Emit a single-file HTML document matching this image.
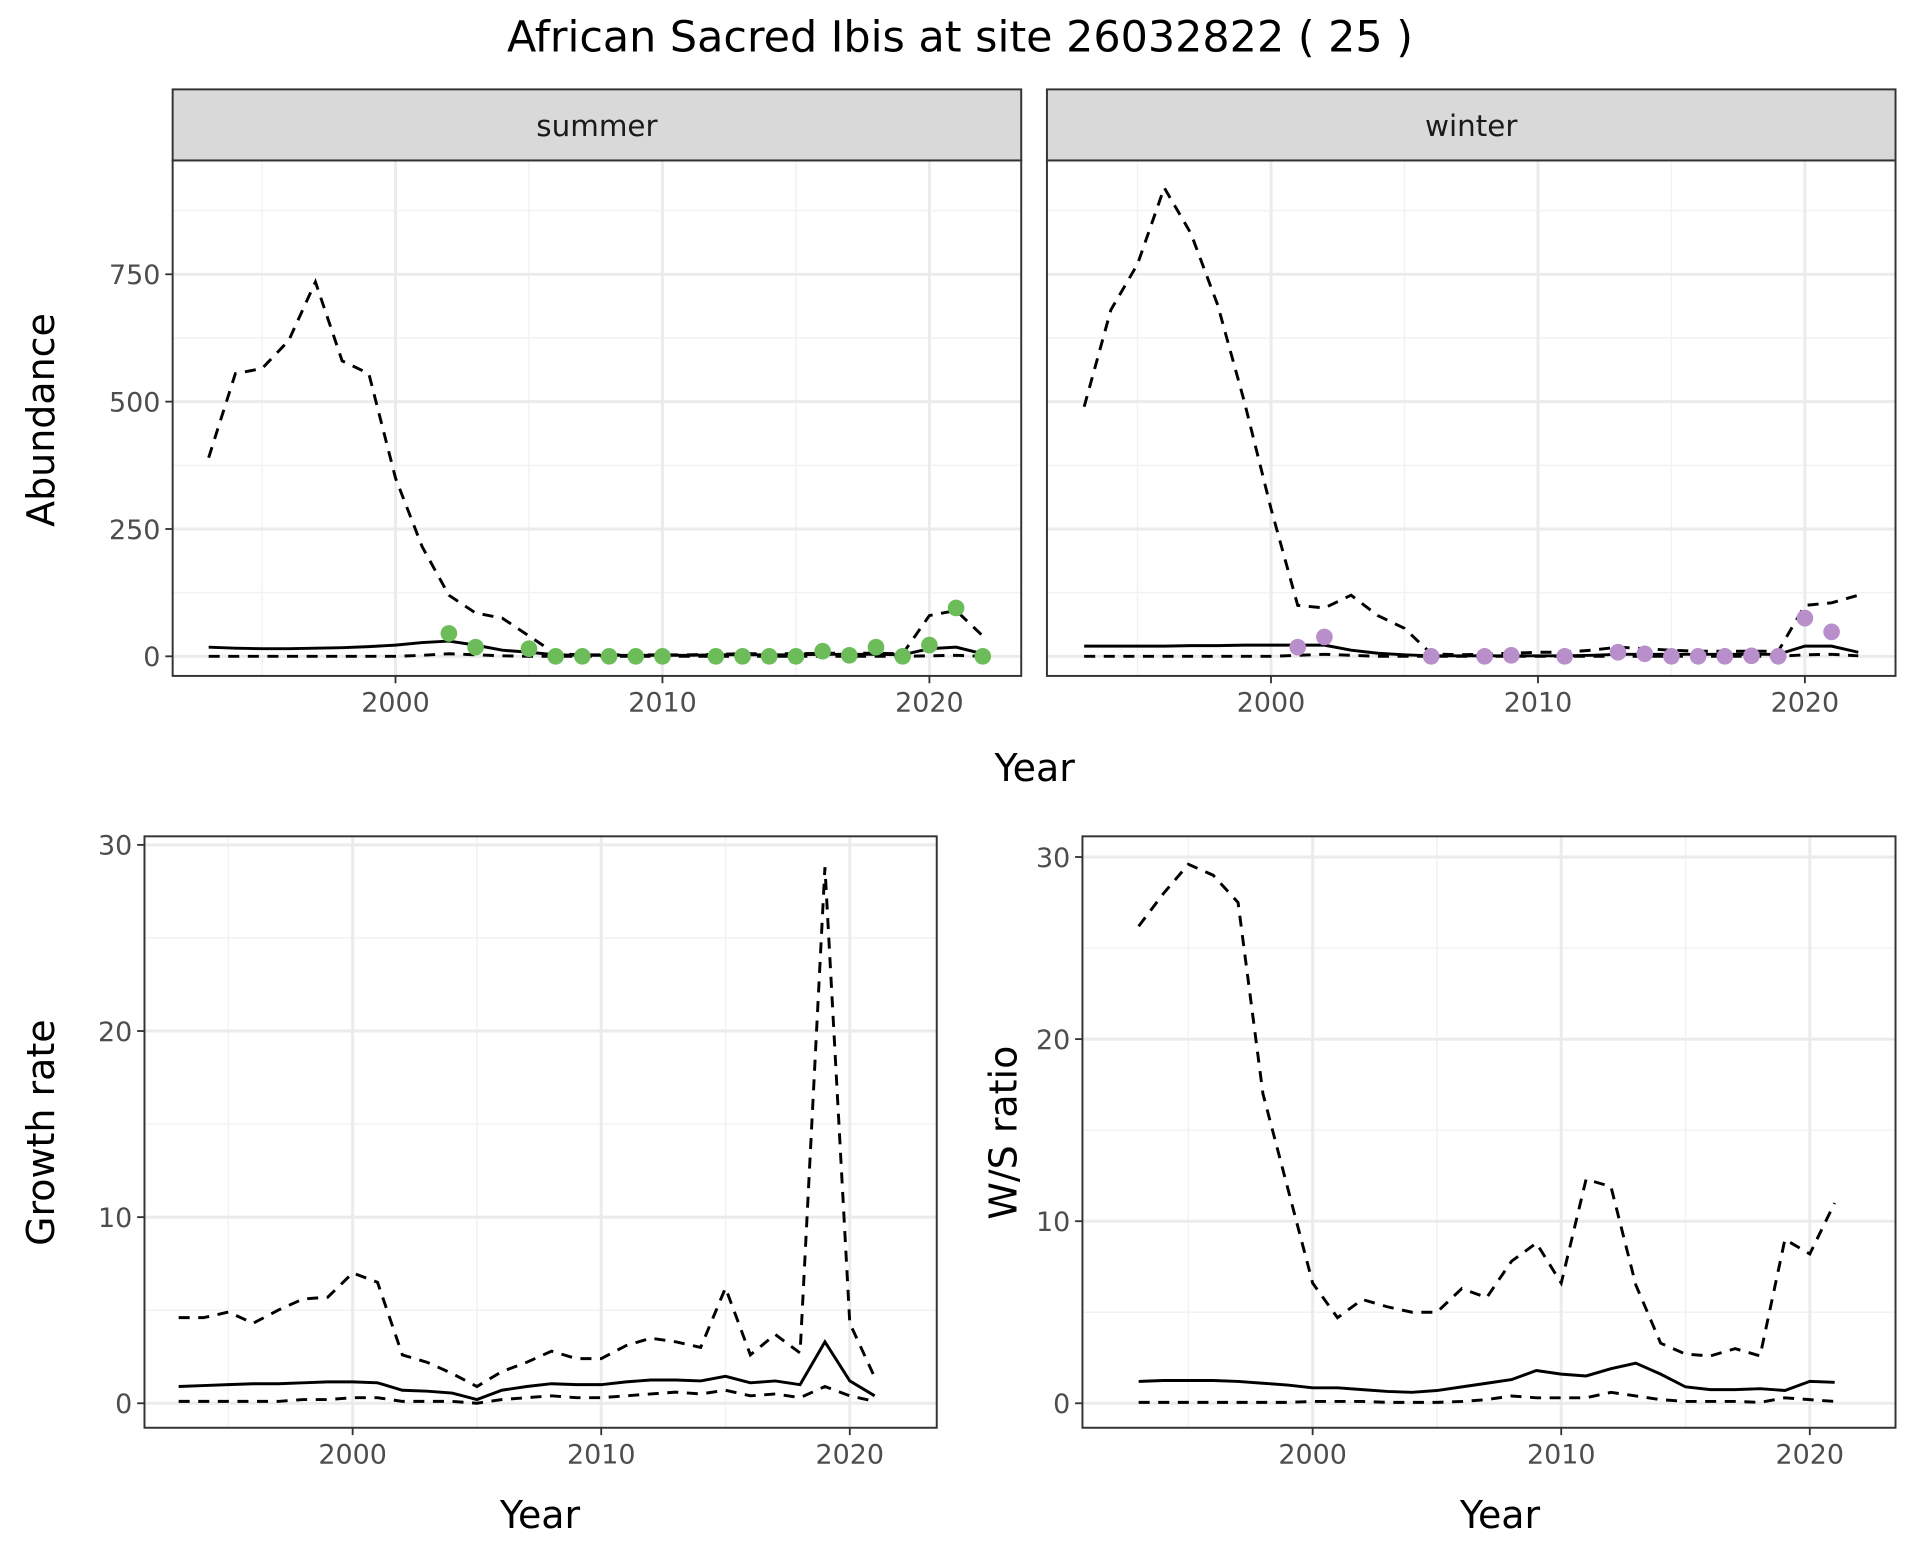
<!DOCTYPE html>
<html><head><meta charset="utf-8"><style>
html,body{margin:0;padding:0;background:#fff;}
svg{display:block;font-family:"DejaVu Sans","Liberation Sans",sans-serif;}
</style></head><body>
<svg id="chart" width="1920" height="1560" viewBox="0 0 1568 1274" xmlns="http://www.w3.org/2000/svg">
<rect width="1568" height="1274" fill="#fff"/>
<text x="784" y="42" font-size="35" text-anchor="middle" fill="#000">African Sacred Ibis at site 26032822 ( 25 )</text>
<g id="g"></g>
</svg>
<script>
const yearsAbund = [1993,1994,1995,1996,1997,1998,1999,2000,2001,2002,2003,2004,2005,2006,2007,2008,2009,2010,2011,2012,2013,2014,2015,2016,2017,2018,2019,2020,2021,2022];
const summerUpper = [390,555,565,620,735,580,555,350,215,120,85,75,40,5,3,3,3,3,3,4,5,5,5,6,6,6,5,80,90,40];
const summerMean = [18,16,15,15,16,17,19,22,27,30,22,12,8,3,2,2,2,2,2,3,3,3,3,4,4,4,3,15,18,5];
const summerLower = [0,0,0,0,0,0,0,0,2,5,3,1,0,0,0,0,0,0,0,0,0,0,0,0,0,0,0,1,2,0];
const summerPtYears = [2002,2003,2005,2006,2007,2008,2009,2010,2012,2013,2014,2015,2016,2017,2018,2019,2020,2021,2022];
const summerPts = [45,18,15,0,0,0,0,0,0,0,0,0,10,2,18,0,22,95,0];
const winterUpper = [490,680,770,920,830,690,500,290,100,95,120,80,55,5,3,4,6,8,8,12,18,15,12,10,10,10,10,100,105,120];
const winterMean = [20,20,20,20,21,21,22,22,22,22,12,6,3,1,1,1,1,1,1,2,4,4,4,4,4,4,4,20,20,8];
const winterLower = [0,0,0,0,0,0,0,0,2,4,2,0,0,0,0,0,0,0,0,0,0,0,0,0,0,0,0,3,4,1];
const winterPtYears = [2001,2002,2006,2008,2009,2011,2013,2014,2015,2016,2017,2018,2019,2020,2021];
const winterPts = [18,38,0,0,2,0,8,5,0,0,0,1,0,75,48];
const yearsRate = [1993,1994,1995,1996,1997,1998,1999,2000,2001,2002,2003,2004,2005,2006,2007,2008,2009,2010,2011,2012,2013,2014,2015,2016,2017,2018,2019,2020,2021];
const growthUpper = [4.6,4.6,4.9,4.3,5.0,5.6,5.7,7.0,6.5,2.6,2.2,1.6,0.9,1.7,2.2,2.8,2.4,2.4,3.1,3.5,3.3,3.0,6.2,2.6,3.7,2.7,28.8,4.3,1.4];
const growthMean = [0.9,0.95,1.0,1.05,1.05,1.1,1.15,1.15,1.1,0.7,0.65,0.55,0.2,0.7,0.9,1.05,1.0,1.0,1.15,1.25,1.25,1.2,1.45,1.1,1.2,1.0,3.3,1.2,0.4];
const growthLower = [0.1,0.1,0.1,0.1,0.1,0.2,0.2,0.3,0.3,0.1,0.1,0.1,0.0,0.2,0.3,0.4,0.3,0.3,0.4,0.5,0.6,0.5,0.7,0.4,0.5,0.3,0.9,0.4,0.1];
const ratioUpper = [26.2,28.0,29.6,29.0,27.5,17.0,11.8,6.6,4.7,5.7,5.3,5.0,5.0,6.3,5.8,7.8,8.8,6.6,12.3,11.9,6.5,3.3,2.7,2.6,3.0,2.6,9.0,8.2,11.0];
const ratioMean = [1.2,1.25,1.25,1.25,1.2,1.1,1.0,0.85,0.85,0.75,0.65,0.6,0.7,0.9,1.1,1.3,1.8,1.6,1.5,1.9,2.2,1.6,0.9,0.75,0.75,0.8,0.7,1.2,1.15];
const ratioLower = [0.05,0.05,0.05,0.05,0.05,0.05,0.05,0.1,0.1,0.1,0.05,0.05,0.05,0.1,0.2,0.4,0.3,0.3,0.3,0.6,0.4,0.2,0.1,0.1,0.1,0.05,0.3,0.2,0.1];
const xTicks = [2000,2010,2020];
const abundTicks = [0,250,500,750];
const rateTicks = [0,10,20,30];

const NS="http://www.w3.org/2000/svg";
const G=document.getElementById('g');
function el(t,a,p){const e=document.createElementNS(NS,t);for(const k in a)e.setAttribute(k,a[k]);(p||G).appendChild(e);return e;}

function panel(o){
  const sx=v=>o.x0+(v-o.xv0)*o.kx, sy=v=>o.y0-(v)*o.ky;
  const g=el('g',{});
  
  
  el('rect',{x:o.l,y:o.t,width:o.r-o.l,height:o.b-o.t,fill:'#fff'},g);
  for(let i=0;i<xTicks.length+1;i++){const v=xTicks[0]-5+i*10;const x=sx(v);if(x>o.l&&x<o.r)el('line',{x1:x,x2:x,y1:o.t,y2:o.b,stroke:'#f2f2f2','stroke-width':1.2},g);}
  for(let i=0;i<o.yt.length;i++){const v=o.yt[i]+(o.yt[1]-o.yt[0])/2;const y=sy(v);if(y>o.t&&y<o.b)el('line',{x1:o.l,x2:o.r,y1:y,y2:y,stroke:'#f2f2f2','stroke-width':1.2},g);}
  xTicks.forEach(v=>{const x=sx(v);el('line',{x1:x,x2:x,y1:o.t,y2:o.b,stroke:'#ebebeb','stroke-width':2.4},g);
    el('line',{x1:x,x2:x,y1:o.b,y2:o.b+6,stroke:'#333','stroke-width':1.5},g);
    const t=el('text',{x:x,y:o.b+29,'font-size':22,'text-anchor':'middle',fill:'#4d4d4d'},g);t.textContent=v;
    });
  o.yt.forEach(v=>{const y=sy(v);el('line',{x1:o.l,x2:o.r,y1:y,y2:y,stroke:'#ebebeb','stroke-width':2.4},g);
    if(o.ylab){el('line',{x1:o.l-6,x2:o.l,y1:y,y2:y,stroke:'#333','stroke-width':1.5},g);
    const t=el('text',{x:o.l-10,y:y+8,'font-size':22,'text-anchor':'end',fill:'#4d4d4d'},g);t.textContent=v;
    }});
  const line=(ys,dash,name)=>{const p=el('polyline',{points:o.years.map((yr,i)=>sx(yr)+','+sy(ys[i])).join(' '),fill:'none',stroke:'#000','stroke-width':2.4,'stroke-dasharray':dash?'9,7':'none'},g);
    };
  line(o.upper,true,'upper-bound-line');line(o.lower,true,'lower-bound-line');line(o.mean,false,'mean-line');
  if(o.pts){o.ptYears.forEach((yr,i)=>{const c=el('circle',{cx:sx(yr),cy:sy(o.pts[i]),r:6.8,fill:o.col},g);
    });}
  el('rect',{x:o.l,y:o.t,width:o.r-o.l,height:o.b-o.t,fill:'none',stroke:'#333','stroke-width':1.6},g);
  if(o.strip){const s=el('rect',{x:o.l,y:o.t-58,width:o.r-o.l,height:58,fill:'#d9d9d9',stroke:'#333','stroke-width':1.6},g);
    
    const t=el('text',{x:(o.l+o.r)/2,y:o.t-20,'font-size':24,'text-anchor':'middle',fill:'#1a1a1a'},g);t.textContent=o.strip;
    }
}
function txt(s,x,y,rot,name){const t=el('text',{x:x,y:y,'font-size':31,'text-anchor':'middle',fill:'#000',transform:rot?`rotate(-90 ${x} ${y})`:''});t.textContent=s;
  }

panel({name:'summer-panel',strip:'summer',l:141,r:834,t:131,b:552,x0:323,xv0:2000,kx:21.8,y0:536,ky:0.416,yt:abundTicks,ylab:true,
  years:yearsAbund,upper:summerUpper,mean:summerMean,lower:summerLower,pts:summerPts,ptYears:summerPtYears,col:'#6cbd5a'});
panel({name:'winter-panel',strip:'winter',l:855,r:1548,t:131,b:552,x0:1038,xv0:2000,kx:21.8,y0:536,ky:0.416,yt:abundTicks,ylab:false,
  years:yearsAbund,upper:winterUpper,mean:winterMean,lower:winterLower,pts:winterPts,ptYears:winterPtYears,col:'#b88ecb'});
panel({name:'growth-rate-panel',l:118,r:765,t:683,b:1166,x0:288,xv0:2000,kx:20.3,y0:1146,ky:15.2,yt:rateTicks,ylab:true,
  years:yearsRate,upper:growthUpper,mean:growthMean,lower:growthLower});
panel({name:'ws-ratio-panel',l:884,r:1548,t:683,b:1166,x0:1072,xv0:2000,kx:20.3,y0:1146,ky:14.87,yt:rateTicks,ylab:true,
  years:yearsRate,upper:ratioUpper,mean:ratioMean,lower:ratioLower});
txt('Abundance',44,343,true,'y-axis-title-abundance');
txt('Year',845,638,false,'x-axis-title-top');
txt('Growth rate',44,925,true,'y-axis-title-growth');
txt('W/S ratio',830,925,true,'y-axis-title-ratio');
txt('Year',441,1248,false,'x-axis-title-growth');
txt('Year',1225,1248,false,'x-axis-title-ratio');
</script>
</body></html>
